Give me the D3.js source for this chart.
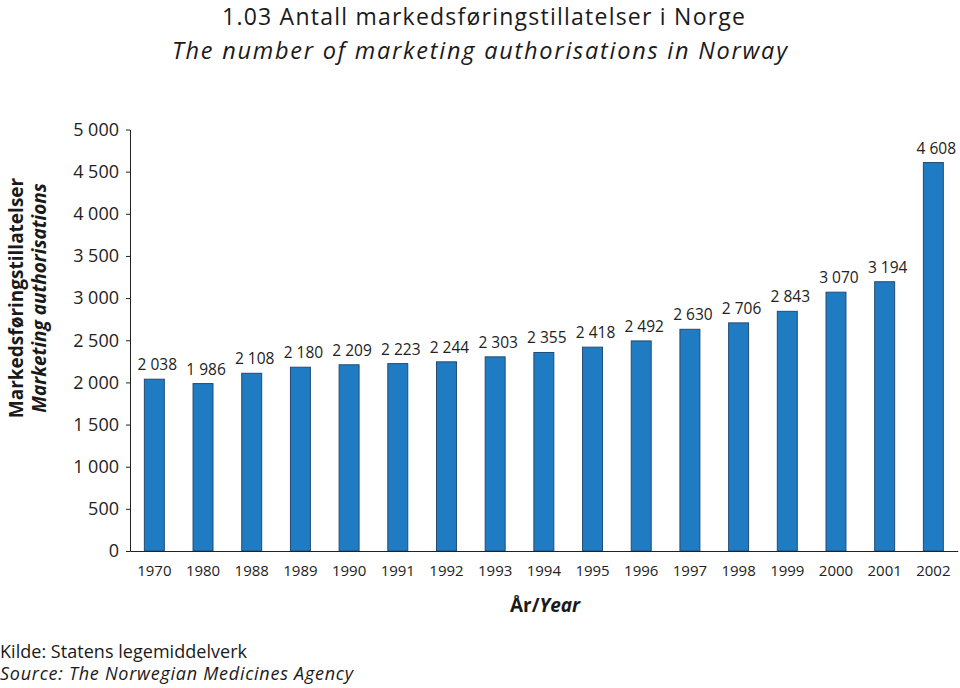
<!DOCTYPE html>
<html><head><meta charset="utf-8">
<script src="https://cdn.jsdelivr.net/npm/d3@7"></script>
<style>
body{margin:0;background:#fff;}
svg{display:block;font-family:"Open Sans",sans-serif;}
</style></head>
<body>
<svg id="chart" width="960" height="688"></svg>
<script>
const years = ["1970","1980","1988","1989","1990","1991","1992","1993","1994","1995","1996","1997","1998","1999","2000","2001","2002"];
const authorisations = [2038,1986,2108,2180,2209,2223,2244,2303,2355,2418,2492,2630,2706,2843,3070,3194,4608];
const yTicks = [0,500,1000,1500,2000,2500,3000,3500,4000,4500,5000];

const svg = d3.select("#chart");
const loc = d3.formatLocale({decimal:",", thousands:" ", grouping:[3], currency:["",""]});
const fmt = loc.format(",d");

const x = d3.scaleBand().domain(years).range([130, 957.7]).paddingInner(0.59).paddingOuter(0.295);
const y = d3.scaleLinear().domain([0, 5000]).range([551, 129.5]);

// title
svg.append("text").attr("x", 222).attr("y", 24.5)
  .attr("font-size", 23).attr("fill","#1a1a1a")
  .attr("textLength", 523).attr("lengthAdjust","spacing")
  .text("1.03 Antall markedsføringstillatelser i Norge");
svg.append("text").attr("x", 172).attr("y", 58.5)
  .attr("font-size", 23.5).attr("font-style","italic").attr("fill","#1a1a1a")
  .attr("textLength", 615).attr("lengthAdjust","spacing")
  .text("The number of marketing authorisations in Norway");

// bars
svg.append("g").selectAll("rect").data(authorisations).join("rect")
  .attr("x", (d,i) => x(years[i]))
  .attr("width", x.bandwidth())
  .attr("y", d => y(d))
  .attr("height", d => y(0) - y(d))
  .attr("fill", "#1f7cc3").attr("stroke", "#234a73").attr("stroke-width", 1);

// value labels
svg.append("g").selectAll("text").data(authorisations).join("text")
  .attr("x", (d,i) => x(years[i]) + x.bandwidth()/2 + 3)
  .attr("y", d => y(d) - 9)
  .attr("text-anchor","middle").attr("font-size", 15.5).attr("fill","#222")
  .text(d => fmt(d));

// y axis
const yAxis = svg.append("g").attr("transform","translate(130,0)")
  .call(d3.axisLeft(y).tickValues(yTicks).tickFormat(fmt).tickSize(4).tickSizeOuter(0).tickPadding(7));
yAxis.selectAll("text").attr("font-size", 18).attr("fill","#222").attr("font-family","'Open Sans',sans-serif");
yAxis.selectAll("line,path").attr("stroke","#222");

// x axis
const xAxis = svg.append("g").attr("transform","translate(0,551)")
  .call(d3.axisBottom(x).tickSize(0).tickSizeOuter(0).tickPadding(14));
xAxis.selectAll("text").attr("font-size", 15).attr("fill","#222").attr("font-family","'Open Sans',sans-serif");
xAxis.selectAll("path").attr("stroke","#222");

// axis titles
const xt = svg.append("text").attr("x", 545).attr("y", 612).attr("text-anchor","middle")
  .attr("font-size", 19).attr("font-weight","bold").attr("fill","#1a1a1a");
xt.append("tspan").text("År/");
xt.append("tspan").attr("font-style","italic").text("Year");

svg.append("text").attr("transform","translate(23,298) rotate(-90)").attr("text-anchor","middle")
  .attr("font-size", 19).attr("font-weight","bold").attr("fill","#1a1a1a").text("Markedsføringstillatelser");
svg.append("text").attr("transform","translate(46,298) rotate(-90)").attr("text-anchor","middle")
  .attr("font-size", 19).attr("font-weight","bold").attr("font-style","italic").attr("fill","#1a1a1a").text("Marketing authorisations");

// source
svg.append("text").attr("x", 0).attr("y", 658).attr("font-size", 18).attr("fill","#1a1a1a")
  .attr("textLength", 247).attr("lengthAdjust","spacing").text("Kilde: Statens legemiddelverk");
svg.append("text").attr("x", 0).attr("y", 680).attr("font-size", 18).attr("font-style","italic").attr("fill","#1a1a1a")
  .attr("textLength", 353).attr("lengthAdjust","spacing").text("Source: The Norwegian Medicines Agency");
</script>
</body></html>
